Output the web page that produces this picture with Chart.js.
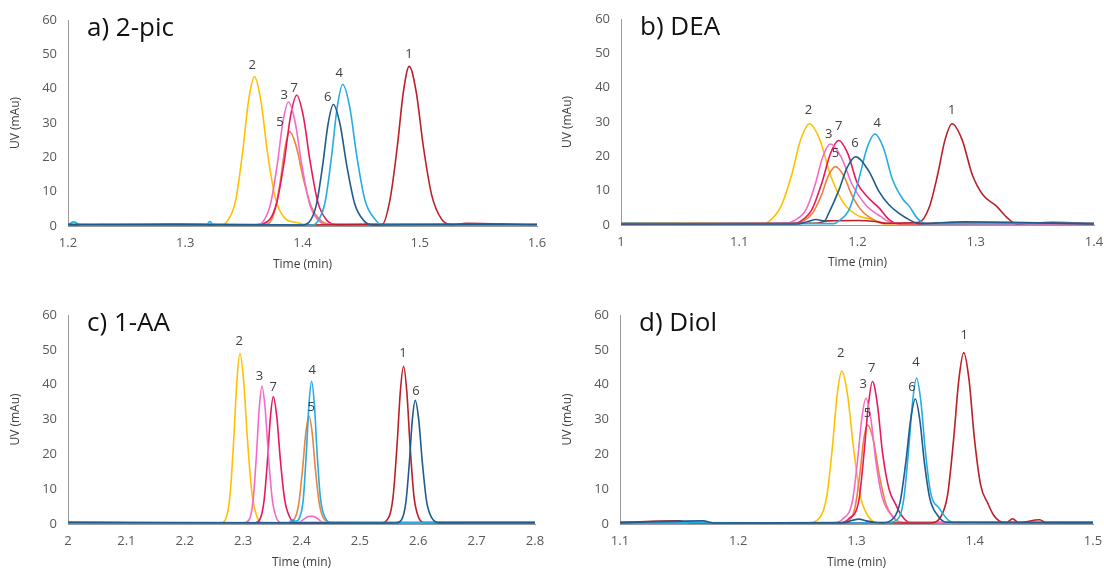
<!DOCTYPE html>
<html lang="en">
<head>
<meta charset="UTF-8">
<title>Chromatograms on four stationary phases</title>
<script src="https://cdn.jsdelivr.net/npm/chart.js"></script>
<style>
    body { margin: 0; background: #fff; overflow: hidden; }
    .wrap { position: relative; width: 1104px; height: 572px; }
    canvas { position: absolute; }
</style>
</head>
<body>
<div class="wrap">
    <canvas id="chartA" style="left:0;top:0"></canvas>
    <canvas id="chartB" style="left:552px;top:0"></canvas>
    <canvas id="chartC" style="left:0;top:290px"></canvas>
    <canvas id="chartD" style="left:552px;top:290px"></canvas>
</div>
<script>
// peak numbers and the colour used for each compound
const peakNames = ["1", "2", "3", "4", "5", "6", "7"];
const peakColors = ["#BC1F28", "#FFC000", "#F56AC8", "#25ACE3", "#E8843C", "#1F5C8C", "#E8195C"];

// a) 2-pic, time (min) / UV (mAu)
const a1 = [[1.2,0.3],[1.3,0.4],[1.4,0.3],[1.4678,0.4],[1.4748,8],[1.4809,23.3],[1.486,39],[1.491,46.5],[1.497,39],[1.503,23.3],[1.5102,9],[1.5186,2],[1.527,0.4],[1.54,0.8],[1.6,0.3]];
const a2 = [[1.2,0.3],[1.25,0.4],[1.3,0.2],[1.331,0.3],[1.336,1.5],[1.343,7.4],[1.349,21.7],[1.354,36.5],[1.359,43.5],[1.3645,36.5],[1.37,21.7],[1.3766,8.5],[1.3843,2.5],[1.395,1],[1.405,0.3],[1.5,0.5],[1.6,0.4]];
const a3 = [[1.2,0.2],[1.3,0.3],[1.36,0.3],[1.3662,1.2],[1.3728,6.5],[1.3785,18],[1.3833,30.3],[1.388,36.1],[1.3937,30.3],[1.3993,18],[1.406,6.5],[1.414,1.5],[1.42,0.5],[1.6,0.3]];
const a4 = [[1.2,0.3],[1.205,1.2],[1.21,0.4],[1.318,0.3],[1.321,1.3],[1.324,0.3],[1.408,0.3],[1.4127,1.2],[1.4193,7],[1.4249,20.6],[1.4296,34.6],[1.4343,41.2],[1.4403,34.6],[1.4462,20.6],[1.4533,7.5],[1.4617,2],[1.468,0.4],[1.6,0.4]];
const a5 = [[1.2,0.3],[1.365,0.3],[1.3715,0.8],[1.3768,5],[1.3814,13.8],[1.3852,23],[1.389,27.5],[1.3948,23],[1.4007,13.8],[1.4077,5.5],[1.416,1.5],[1.425,0.5],[1.6,0.3]];
const a6 = [[1.2,0.5],[1.4,0.3],[1.4054,1],[1.4117,6],[1.4172,17.7],[1.4218,29.7],[1.4263,35.4],[1.432,29.7],[1.4377,17.7],[1.4445,6.5],[1.4525,1.5],[1.46,0.3],[1.6,0.5]];
const a7 = [[1.2,0.3],[1.29,0.6],[1.36,0.4],[1.3709,1.5],[1.3782,7],[1.3845,19],[1.3898,32],[1.395,38.1],[1.4007,32],[1.4064,19],[1.4132,6.8],[1.4212,1.5],[1.43,0.4],[1.52,0.6],[1.6,0.3]];
const aLabels = [[1.4908,49.9],[1.3572,46.8],[1.3845,38.0],[1.4314,44.5],[1.3808,30.1],[1.4215,37.6],[1.393,40.0]];

// b) DEA
const b1 = [[1,0.4],[1.165,0.5],[1.175,1.2],[1.2,1.3],[1.215,1],[1.225,0.5],[1.2519,0.8],[1.2605,5],[1.2678,14.7],[1.274,24.8],[1.28,29.5],[1.2885,24.8],[1.297,14.7],[1.306,8.8],[1.3175,5.5],[1.327,2],[1.334,0.4],[1.365,0.8],[1.4,0.4]];
const b2 = [[1,0.5],[1.12,0.4],[1.1249,1],[1.1354,5.5],[1.1444,14.7],[1.1519,24.8],[1.1594,29.5],[1.1682,24.8],[1.177,14.7],[1.188,6.5],[1.2,2.8],[1.21,1.8],[1.222,0.4],[1.4,0.4]];
const b3 = [[1,0.3],[1.138,0.4],[1.1476,1.5],[1.1565,4.5],[1.1642,11.8],[1.1706,19.8],[1.177,23.6],[1.1862,19.8],[1.1955,11.8],[1.2066,6],[1.2195,2.5],[1.23,0.6],[1.4,0.3]];
const b4 = [[1,0.5],[1.18,0.4],[1.1834,1],[1.1929,4.5],[1.2011,13.3],[1.2079,22.3],[1.2147,26.5],[1.2221,22.3],[1.2295,13.3],[1.2384,7.5],[1.2437,5.5],[1.2505,2],[1.258,0.4],[1.4,0.5]];
const b5 = [[1,0.4],[1.146,0.4],[1.1537,1],[1.1621,3.5],[1.1693,8.5],[1.1753,14.3],[1.1813,17],[1.1884,14.3],[1.1955,8.5],[1.204,4],[1.214,1.5],[1.224,0.4],[1.4,0.4]];
const b6 = [[1,0.3],[1.15,0.3],[1.158,1],[1.165,1.6],[1.172,1.2],[1.1756,3.4],[1.1841,10],[1.1912,16.7],[1.1983,19.9],[1.2096,15.7],[1.2181,9.8],[1.2266,5.9],[1.2352,3.4],[1.244,1.5],[1.252,0.4],[1.29,0.9],[1.4,0.3]];
const b7 = [[1,0.3],[1.145,0.4],[1.1514,1],[1.1614,4.5],[1.1699,12.3],[1.177,20.7],[1.1841,24.6],[1.1919,20.7],[1.1997,12.3],[1.209,8],[1.2182,5],[1.227,1.5],[1.235,0.4],[1.4,0.4]];
const bLabels = [[1.2797,33.4],[1.1585,33.4],[1.1756,26.5],[1.2167,29.7],[1.1813,20.8],[1.1978,23.8],[1.1841,28.8]];

// c) 1-AA
const c1 = [[2,0.4],[2.535,0.3],[2.5493,1.8],[2.557,8],[2.5637,22.7],[2.5693,38],[2.5748,45.3],[2.5804,38],[2.5859,22.7],[2.5926,8],[2.6003,2],[2.61,0.4],[2.8,0.4]];
const c2 = [[2,0.3],[2.262,0.3],[2.2704,1.5],[2.2777,8.5],[2.284,24.5],[2.2893,41],[2.2945,49],[2.3009,41],[2.3073,24.5],[2.315,9],[2.3239,2],[2.333,0.4],[2.8,0.3]];
const c3 = [[2,0.3],[2.3,0.3],[2.3106,1.3],[2.3172,7],[2.3228,19.8],[2.3275,33],[2.3322,39.5],[2.3378,33],[2.3433,19.8],[2.35,7],[2.3577,1.5],[2.366,0.4],[2.395,0.4],[2.405,1.5],[2.413,2.2],[2.42,2.2],[2.428,1.5],[2.437,0.4],[2.8,0.3]];
const c4 = [[2,0.4],[2.378,0.3],[2.384,1.2],[2.39,0.8],[2.3967,1.8],[2.403,7],[2.4083,20.5],[2.4128,34.4],[2.4172,41],[2.422,34.4],[2.4267,20.5],[2.4324,7.5],[2.44,2],[2.452,0.4],[2.8,0.4]];
const c5 = [[2,0.3],[2.376,0.3],[2.3873,1.3],[2.395,5.5],[2.4017,15.5],[2.4073,26],[2.4128,31],[2.4184,26],[2.4239,15.5],[2.4306,5.8],[2.4385,1.5],[2.452,0.4],[2.8,0.3]];
const c6 = [[2,0.5],[2.562,0.3],[2.5718,1.3],[2.5788,6.2],[2.5848,17.7],[2.5898,29.8],[2.5948,35.5],[2.6009,29.8],[2.607,17.7],[2.6143,6.5],[2.623,1.8],[2.635,0.4],[2.8,0.4]];
const c7 = [[2,0.4],[2.32,0.3],[2.3287,1.3],[2.3357,6.5],[2.3417,18.2],[2.3467,30.6],[2.3517,36.5],[2.3578,30.6],[2.3639,18.2],[2.3712,7],[2.3798,2],[2.39,0.4],[2.8,0.4]];
const cLabels = [[2.5737,49.0],[2.2934,52.4],[2.3278,42.5],[2.4183,44.2],[2.4166,33.6],[2.5959,38.2],[2.3517,39.3]];

// d) Diol
const d1 = [[1.1,0.4],[1.15,0.9],[1.16,0.3],[1.362,0.3],[1.3712,2],[1.3771,8.5],[1.3822,24.6],[1.3865,41.3],[1.3907,49.2],[1.3952,41.3],[1.3997,24.6],[1.4051,11],[1.411,6],[1.416,2.5],[1.421,0.8],[1.427,0.4],[1.432,1.5],[1.437,0.4],[1.455,1.2],[1.46,0.4],[1.5,0.4]];
const d2 = [[1.1,0.4],[1.258,0.3],[1.2693,2],[1.2749,8],[1.2796,22],[1.2836,37],[1.2875,43.9],[1.2925,37],[1.2974,22],[1.3033,8],[1.3103,2],[1.318,0.4],[1.5,0.5]];
const d3 = [[1.1,0.5],[1.28,0.3],[1.2886,1.5],[1.2965,6.5],[1.3008,18],[1.3044,30],[1.3079,36.1],[1.3122,30],[1.3164,18],[1.3215,8],[1.3285,3],[1.339,0.4],[1.5,0.4]];
const d4 = [[1.1,0.4],[1.325,0.3],[1.3352,1.5],[1.3399,7],[1.344,21],[1.3474,35],[1.3508,41.9],[1.3545,35],[1.3582,21],[1.3627,9],[1.37,4.5],[1.378,1],[1.385,0.4],[1.5,0.4]];
const d5 = [[1.1,0.3],[1.285,0.3],[1.2943,1.2],[1.2989,5],[1.3028,14.2],[1.306,24],[1.3093,28.4],[1.3143,24],[1.3192,14.2],[1.3251,5.5],[1.331,2],[1.338,0.4],[1.5,0.3]];
const d6 = [[1.1,0.4],[1.17,0.9],[1.18,0.3],[1.29,0.4],[1.296,1],[1.302,1.4],[1.308,0.9],[1.315,0.5],[1.322,0.4],[1.3315,1.7],[1.337,6.5],[1.3418,18],[1.3458,30],[1.3497,35.9],[1.3535,30],[1.3573,18],[1.3619,7.5],[1.3685,2.5],[1.376,0.5],[1.5,0.4]];
const d7 = [[1.1,0.4],[1.285,0.3],[1.2935,1.5],[1.3021,7],[1.3064,20.5],[1.31,34],[1.3135,40.9],[1.3178,34],[1.322,20.5],[1.3275,10],[1.3333,5.5],[1.338,2.5],[1.345,0.4],[1.5,0.4]];
const dLabels = [[1.391,54.3],[1.2867,48.9],[1.3056,40.0],[1.3503,46.3],[1.3093,31.9],[1.3469,39.3],[1.3129,44.8]];

const yTicks = [0, 10, 20, 30, 40, 50, 60];
const FONT = "'Open Sans', 'DejaVu Sans', sans-serif";

// draws the panel title and the peak numbers at their data positions
const peakLabelPlugin = {
    id: "peakLabels",
    afterDatasetsDraw(chart, args, opts) {
        const ctx = chart.ctx;
        const xs = chart.scales.x, ys = chart.scales.y;
        ctx.save();
        ctx.fillStyle = "#404040";
        ctx.font = "13px " + FONT;
        ctx.textAlign = "center";
        ctx.textBaseline = "middle";
        opts.labels.forEach((p, i) => {
            ctx.fillText(peakNames[i], xs.getPixelForValue(p[0]), ys.getPixelForValue(p[1]));
        });
        ctx.fillStyle = "#111";
        ctx.font = "26px " + FONT;
        ctx.textAlign = "left";
        ctx.fillText(opts.title, chart.chartArea.left + 19, chart.chartArea.top + 9);
        ctx.restore();
    }
};

function makePanel(id, series, labels, title, xMin, xMax, box) {
    const canvas = document.getElementById(id);
    canvas.width = box.w;
    canvas.height = box.h;
    // order of drawing: later ones sit on top
    const order = [5, 3, 0, 2, 6, 4, 1];
    const datasets = order.map(i => ({
        label: peakNames[i],
        data: series[i].map(p => ({ x: p[0], y: p[1] })),
        borderColor: peakColors[i],
        borderWidth: 1.6,
        pointRadius: 0,
        fill: false,
        cubicInterpolationMode: "monotone"
    }));
    return new Chart(canvas, {
        type: "line",
        data: { datasets: datasets },
        options: {
            responsive: false,
            animation: false,
            layout: { padding: { top: box.top, right: box.right, left: 0, bottom: 0 } },
            plugins: {
                legend: { display: false },
                tooltip: { enabled: false },
                peakLabels: { labels: labels, title: title }
            },
            scales: {
                x: {
                    type: "linear",
                    min: xMin,
                    max: xMax,
                    afterFit: s => { s.height = box.xh; s.paddingLeft = 0; s.paddingRight = 0; },
                    grid: { display: false, drawTicks: false },
                    border: { color: "#9A9A9A", width: 1 },
                    ticks: {
                        stepSize: 0.1, padding: 9, color: "#595959",
                        font: { family: FONT, size: 13 },
                        callback: v => String(Math.round(v * 10) / 10)
                    },
                    title: { display: true, text: "Time (min)", color: "#404040",
                             font: { family: FONT, size: 12 }, padding: { top: 0, bottom: box.tp } }
                },
                y: {
                    min: 0,
                    max: 60,
                    afterFit: s => { s.width = box.yw; },
                    afterBuildTicks: s => { s.ticks = yTicks.map(v => ({ value: v })); },
                    grid: { display: false, drawTicks: false },
                    border: { color: "#9A9A9A", width: 1 },
                    ticks: { padding: 11, color: "#595959", font: { family: FONT, size: 13 } },
                    title: { display: true, text: "UV (mAu)", color: "#404040",
                             font: { family: FONT, size: 12 }, padding: { top: 8, bottom: 0 } }
                }
            }
        },
        plugins: [peakLabelPlugin]
    });
}

makePanel("chartA", [a1, a2, a3, a4, a5, a6, a7], aLabels, "a) 2-pic", 1.2, 1.6,
    { w: 552, h: 286, top: 20, right: 15, yw: 68, xh: 60, tp: 14 });
makePanel("chartB", [b1, b2, b3, b4, b5, b6, b7], bLabels, "b) DEA", 1.0, 1.4,
    { w: 552, h: 286, top: 19, right: 10, yw: 69, xh: 61, tp: 16 });
makePanel("chartC", [c1, c2, c3, c4, c5, c6, c7], cLabels, "c) 1-AA", 2.0, 2.8,
    { w: 552, h: 282, top: 25, right: 17, yw: 68, xh: 48, tp: 2 });
makePanel("chartD", [d1, d2, d3, d4, d5, d6, d7], dLabels, "d) Diol", 1.1, 1.5,
    { w: 552, h: 282, top: 25, right: 11, yw: 68, xh: 48, tp: 2 });
</script>
</body>
</html>
